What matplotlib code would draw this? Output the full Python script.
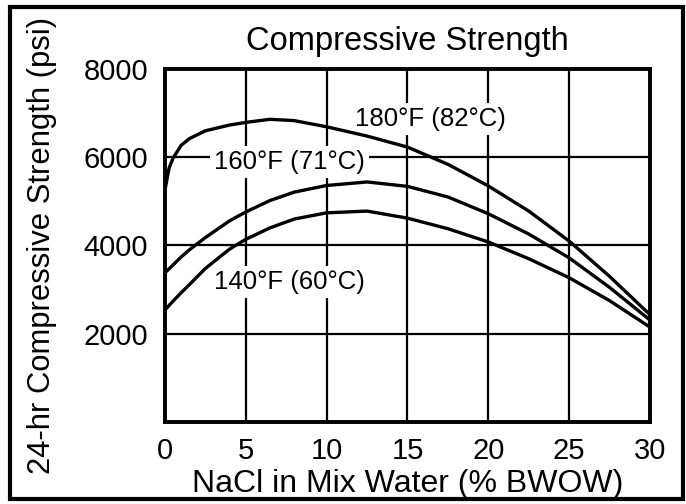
import matplotlib
matplotlib.use("Agg")
import matplotlib.pyplot as plt
from matplotlib.patches import Rectangle

# NaCl concentration (% BWOW) and 24-hr compressive strength (psi)
nacl = [0, 0.25, 0.5, 1, 1.5, 2.5, 4, 5, 6.5, 8, 10, 12.5, 15, 17.5, 20, 22.5, 25, 27.5, 30]
str_180 = [5260, 5750, 5980, 6270, 6420, 6600, 6730, 6790, 6860, 6830, 6690, 6480, 6230, 5840, 5350, 4780, 4100, 3300, 2430]
str_160 = [3380, 3470, 3560, 3740, 3900, 4180, 4560, 4760, 5020, 5210, 5360, 5440, 5340, 5100, 4720, 4260, 3720, 3050, 2310]
str_140 = [2540, 2640, 2740, 2930, 3110, 3480, 3920, 4140, 4400, 4600, 4740, 4780, 4620, 4380, 4080, 3700, 3270, 2750, 2150]

curve_labels = ["180°F (82°C)", "160°F (71°C)", "140°F (60°C)"]
label_pos = [(16.4, 6860), (7.7, 5900), (7.7, 3170)]

x_ticks = [0, 5, 10, 15, 20, 25, 30]
y_ticks = [2000, 4000, 6000, 8000]

plt.rcParams['font.family'] = ['Liberation Sans', 'DejaVu Sans']

fig = plt.figure(figsize=(6.86, 5.04), dpi=100)
ax = fig.add_axes([0.2405, 0.1627, 0.707, 0.7004])

for ys in (str_180, str_160, str_140):
    ax.plot(nacl, ys, color='black', lw=2.4, zorder=3, solid_joinstyle='round')

# labels sit over the grid (white box breaks the grid lines) but under the curves
for txt, (lx, ly) in zip(curve_labels, label_pos):
    ax.text(lx, ly, txt, ha='center', va='center', fontsize=18.5, zorder=2,
            bbox=dict(facecolor='white', edgecolor='none', pad=3))

ax.set_xlim(0, 30)
ax.set_ylim(0, 8000)
ax.set_xticks(x_ticks)
ax.set_yticks(y_ticks)
ax.grid(True, color='black', lw=1.6)
ax.set_axisbelow(True)
ax.tick_params(length=0, labelsize=21)
ax.tick_params(axis='y', pad=12)
ax.tick_params(axis='x', pad=11)
for s in ax.spines.values():
    s.set_linewidth(2.8)

ax.set_title("Compressive Strength", fontsize=23.5, pad=14)
ax.set_xlabel("NaCl in Mix Water (% BWOW)", fontsize=23, labelpad=3)
ax.set_ylabel("24-hr Compressive Strength (psi)", fontsize=22.3, labelpad=19)

# outer frame of the figure
fig.patches.append(Rectangle((0.0146, 0.0099), 0.981, 0.976, transform=fig.transFigure,
                             fill=False, edgecolor='black', lw=3))

fig.savefig("out.png", dpi=100)
